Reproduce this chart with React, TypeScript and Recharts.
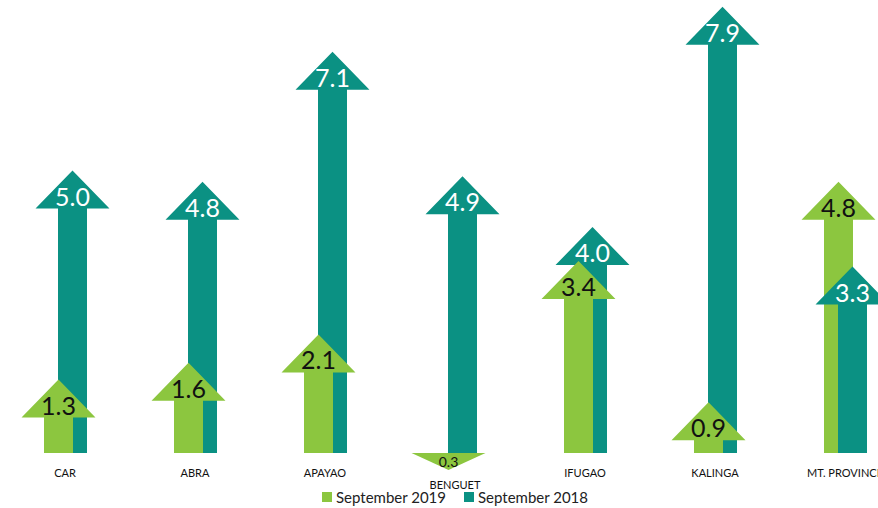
import React from 'react';
import { BarChart, Bar, XAxis, YAxis, Legend } from 'recharts';

if (typeof document !== 'undefined') {
  document.body.style.margin = '0';
}

const REGIONS = ['CAR', 'ABRA', 'APAYAO', 'BENGUET', 'IFUGAO', 'KALINGA', 'MT. PROVINCE'];
const SEP_2019 = [1.3, 1.6, 2.1, -0.3, 3.4, 0.9, 4.8];
const SEP_2018 = [5.0, 4.8, 7.1, 4.9, 4.0, 7.9, 3.3];
const SERIES_NAMES = ['September 2019', 'September 2018'];

const GREEN = '#8cc63f';
const TEAL = '#0b9183';
const FONT = 'Lato, "Open Sans", sans-serif';

const data = REGIONS.map((region, i) => {
  const g = SEP_2019[i];
  const t = SEP_2018[i];
  const tealInFront = t < g;
  return {
    region,
    sep2019: g,
    sep2018Back: tealInFront ? 0 : t,
    sep2018Front: tealInFront ? t : 0,
  };
});

const makeArrow = (valueKey: string, color: string, textColor: string) => (props: any) => {
  const { x, y, width, height, payload } = props;
  const v = payload ? payload[valueKey] : 0;
  if (!v || !isFinite(height) || Math.abs(height) < 0.5) return <g />;
  const top = Math.min(y, y + height);
  const bottom = Math.max(y, y + height);
  const h = bottom - top;
  const cx = x + width / 2;
  const headW = width * 2.55;
  const headH = Math.min(38, h);
  const up = v > 0;
  let d: string;
  let ty: number;
  if (up) {
    const hb = top + headH;
    d = `M${x},${bottom} L${x},${hb} L${cx - headW / 2},${hb} L${cx},${top} L${cx + headW / 2},${hb} L${x + width},${hb} L${x + width},${bottom} Z`;
    ty = hb - 3;
  } else {
    const hb = bottom - headH;
    d = `M${x},${top} L${x + width},${top} L${x + width},${hb} L${cx + headW / 2},${hb} L${cx},${bottom} L${cx - headW / 2},${hb} L${x},${hb} Z`;
    ty = bottom - 3;
  }
  const fs = headH >= 30 ? 25 : 14;
  return (
    <g>
      <path d={d} fill={color} />
      <text
        x={cx}
        y={ty}
        textAnchor="middle"
        fontSize={fs}
        fontFamily={FONT}
        fontWeight={400}
        fill={textColor}
      >
        {Math.abs(v).toFixed(1)}
      </text>
    </g>
  );
};

const CategoryTick = (props: any) => {
  const { x, y, payload, index } = props;
  const hasNegative = SEP_2019[index] < 0 || SEP_2018[index] < 0;
  return (
    <text
      x={x}
      y={y}
      dy={hasNegative ? 18.5 : 7}
      textAnchor="middle"
      fontSize={11}
      fontFamily={FONT}
      fill="#111"
    >
      {payload.value}
    </text>
  );
};

const renderLegend = (props: any) => {
  const items = (props.payload || [])
    .filter((p: any) => p.type !== 'none' && SERIES_NAMES.includes(p.value))
    .sort((a: any, b: any) => SERIES_NAMES.indexOf(a.value) - SERIES_NAMES.indexOf(b.value));
  return (
    <div
      style={{
        display: 'flex',
        justifyContent: 'center',
        alignItems: 'center',
        height: 22,
        fontFamily: FONT,
        fontSize: 15,
        color: '#222',
      }}
    >
      {items.map((it: any, i: number) => (
        <div key={i} style={{ display: 'flex', alignItems: 'center', marginRight: i === 0 ? 18 : 0 }}>
          <span style={{ display: 'inline-block', width: 10, height: 10, background: it.color, marginRight: 4 }} />
          <span>{it.value}</span>
        </div>
      ))}
    </div>
  );
};

export default function App() {
  return (
    <div style={{ width: 878, height: 508, overflow: 'hidden', position: 'relative', background: '#fff' }}>
      <BarChart
        width={878}
        height={508}
        data={data}
        margin={{ top: 1, right: -32, left: 0, bottom: 0 }}
        barSize={29}
        barGap={-43}
      >
        <XAxis
          dataKey="region"
          height={16}
          interval={0}
          tickSize={0}
          tickMargin={0}
          axisLine={false}
          tickLine={false}
          tick={<CategoryTick />}
        />
        <YAxis hide type="number" domain={[-0.3, 8]} />
        <Legend verticalAlign="bottom" height={22} content={renderLegend} />
        <Bar
          dataKey="sep2018Back"
          stackId="teal"
          name={SERIES_NAMES[1]}
          fill={TEAL}
          barSize={29}
          shape={makeArrow('sep2018Back', TEAL, '#ffffff')}
          isAnimationActive={false}
        />
        <Bar
          dataKey="sep2019"
          name={SERIES_NAMES[0]}
          fill={GREEN}
          barSize={29}
          shape={makeArrow('sep2019', GREEN, '#111111')}
          isAnimationActive={false}
        />
        <Bar
          dataKey="sep2018Front"
          stackId="teal"
          name={SERIES_NAMES[1] + ' '}
          legendType="none"
          fill={TEAL}
          barSize={29}
          shape={makeArrow('sep2018Front', TEAL, '#ffffff')}
          isAnimationActive={false}
        />
      </BarChart>
    </div>
  );
}
